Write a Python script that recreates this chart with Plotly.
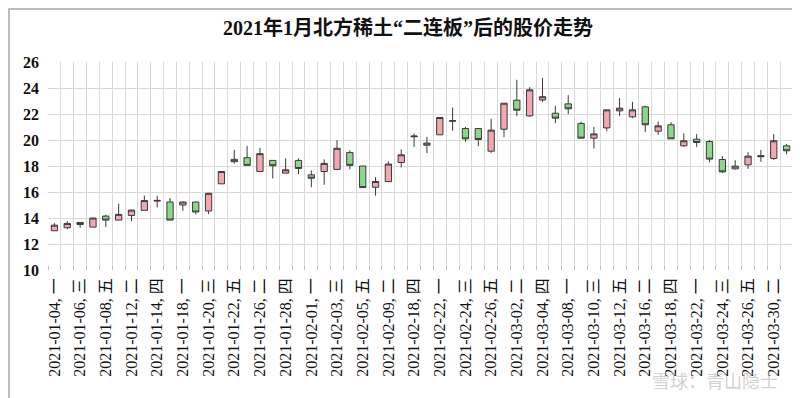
import plotly.graph_objects as go

dates = ["2021-01-04","2021-01-05","2021-01-06","2021-01-07","2021-01-08","2021-01-11","2021-01-12","2021-01-13","2021-01-14","2021-01-15",
         "2021-01-18","2021-01-19","2021-01-20","2021-01-21","2021-01-22","2021-01-25","2021-01-26","2021-01-27","2021-01-28","2021-01-29",
         "2021-02-01","2021-02-02","2021-02-03","2021-02-04","2021-02-05","2021-02-08","2021-02-09","2021-02-10","2021-02-18","2021-02-19",
         "2021-02-22","2021-02-23","2021-02-24","2021-02-25","2021-02-26","2021-03-01","2021-03-02","2021-03-03","2021-03-04","2021-03-05",
         "2021-03-08","2021-03-09","2021-03-10","2021-03-11","2021-03-12","2021-03-15","2021-03-16","2021-03-17","2021-03-18","2021-03-19",
         "2021-03-22","2021-03-23","2021-03-24","2021-03-25","2021-03-26","2021-03-29","2021-03-30","2021-03-31"]
weekdays = ["一","二","三","四","五"]*11 + ["一","二","三"]

open_ = [13.02,13.25,13.66,13.30,14.15,13.84,14.20,14.59,15.30,15.23,
         15.00,15.23,14.54,16.63,18.51,18.64,17.58,18.43,17.45,18.43,
         17.32,17.58,17.74,19.03,18.00,16.37,16.80,18.27,20.25,19.60,
         20.40,21.45,20.88,20.88,19.14,20.83,23.06,21.86,23.08,22.06,
         22.78,21.27,20.14,20.93,22.24,21.78,22.55,20.68,21.17,19.55,
         20.06,19.88,18.50,17.78,18.09,18.80,18.58,19.55]
high_ = [13.60,13.76,13.69,14.02,14.25,15.10,14.64,15.72,15.70,15.54,
         15.28,15.26,15.93,17.58,19.24,19.55,19.39,18.43,18.59,18.59,
         17.66,18.51,19.98,19.21,18.00,17.14,18.35,19.27,20.50,20.24,
         21.75,22.50,21.01,20.88,21.63,22.83,24.63,24.06,24.77,22.63,
         23.45,21.42,21.01,22.32,23.24,22.94,22.63,21.42,21.37,20.50,
         20.45,19.99,18.76,18.45,19.06,19.24,20.45,19.70]
low_ = [13.00,13.14,13.25,13.30,13.30,13.84,13.76,14.59,14.82,13.84,
        14.56,14.28,14.30,16.63,18.18,18.05,17.58,17.04,17.45,17.37,
        16.37,16.55,17.68,17.74,16.34,15.72,16.75,17.88,19.47,18.99,
        20.40,20.71,19.86,19.53,19.01,20.22,21.83,21.78,22.92,21.30,
        21.99,20.14,19.35,20.68,21.83,21.68,20.60,20.40,20.09,19.47,
        19.47,18.29,17.45,17.73,17.78,18.32,18.47,18.91]
close_ = [13.45,13.58,13.50,14.00,13.84,14.28,14.61,15.34,15.35,13.84,
          15.23,14.46,15.90,17.58,18.33,18.05,18.95,18.02,17.71,17.81,
          17.06,18.20,19.36,18.05,16.34,16.81,18.15,18.86,20.30,19.76,
          21.73,21.48,20.09,20.04,20.76,22.83,22.29,23.86,23.33,21.68,
          22.40,20.14,20.47,22.32,22.45,22.32,21.17,21.09,20.09,19.94,
          19.81,18.53,17.55,17.99,18.76,18.72,19.94,19.17]

y_ticks = [10, 12, 14, 16, 18, 20, 22, 24, 26]

x_idx = list(range(len(dates)))
labels = [f"{d}, {w}" for d, w in zip(dates, weekdays)]
tickvals = x_idx[::2]
ticktext = labels[::2]

fig = go.Figure()
fig.add_trace(go.Candlestick(
    x=x_idx, open=open_, high=high_, low=low_, close=close_,
    increasing=dict(fillcolor="#f4a6b1", line=dict(color="#3a3a3a", width=1)),
    decreasing=dict(fillcolor="#8bd98b", line=dict(color="#3a3a3a", width=1)),
    whiskerwidth=0,
    showlegend=False,
))

W, H = 800, 398
L, R, T, B = 40, 15, 54, 136
pw, ph = W - L - R, H - T - B

def px(x):
    return (x - L) / pw

def py(y):
    return (H - B - y) / ph

SERIF = '"Liberation Serif", "Noto Sans CJK SC", serif'

fig.update_layout(
    width=W, height=H,
    margin=dict(l=L, r=R, t=T, b=B),
    paper_bgcolor="white", plot_bgcolor="white",
    title=dict(text="2021年1月北方稀土“二连板”后的股价走势",
               x=0.5, xanchor="center", y=1 - 20 / H, yanchor="middle",
               font=dict(family=SERIF, size=20, color="#111", weight="bold")),
    xaxis=dict(
        range=[-0.5, len(dates) - 0.5],
        rangeslider=dict(visible=False),
        tickmode="array", tickvals=tickvals, ticktext=ticktext,
        tickangle=-90, showgrid=False, ticks="",
        ticklabelstandoff=4,
        tickfont=dict(family=SERIF, size=16, color="#111"),
        minor=dict(tickmode="linear", tick0=-0.5, dtick=1, showgrid=True,
                   gridcolor="#d9d9d9", gridwidth=1, ticks="inside", ticklen=4,
                   tickcolor="#bfbfbf"),
        zeroline=False, showline=False, fixedrange=True,
    ),
    yaxis=dict(
        range=[10, 26], tickmode="array", tickvals=y_ticks,
        ticktext=[str(v) for v in y_ticks],
        showgrid=True, gridcolor="#d9d9d9", gridwidth=1,
        tickfont=dict(family="Liberation Serif", size=16, color="#111", weight="bold"),
        ticks="", zeroline=False, showline=False, ticklabelstandoff=8,
    ),
    shapes=[dict(type="rect", xref="paper", yref="paper",
                 x0=px(1), x1=px(798), y0=py(397), y1=py(1),
                 line=dict(color="#a6a6a6", width=1.5), fillcolor="rgba(0,0,0,0)", layer="below")],
    annotations=[dict(text="雪球：青山隐士", xref="paper", yref="paper",
                      x=px(772), y=py(372), xanchor="right", yanchor="middle",
                      showarrow=False,
                      font=dict(family="Noto Sans CJK SC", size=18, color="rgba(170,170,170,0.55)"))],
)

fig.write_html("out.html")
